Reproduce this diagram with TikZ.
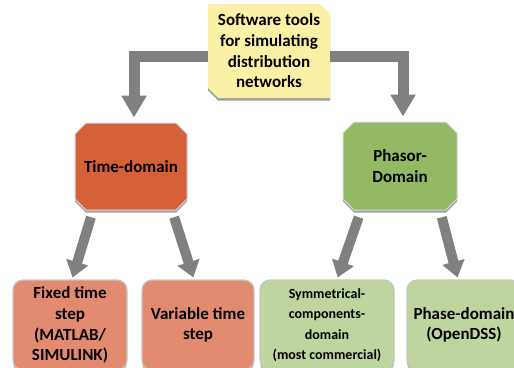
\documentclass[tikz,border=0pt]{standalone}
\usepackage{fontspec}
\setmainfont{Carlito}
\usetikzlibrary{arrows.meta,shapes.misc,shadows}
\definecolor{notey}{RGB}{251,241,166}
\definecolor{timec}{RGB}{214,96,55}
\definecolor{phasc}{RGB}{147,185,101}
\definecolor{salm}{RGB}{226,139,113}
\definecolor{lgreen}{RGB}{190,213,160}
\definecolor{arrowgray}{RGB}{128,128,128}
\tikzset{
  shade box/.style={drop shadow={opacity=1,fill=gray!75,shadow xshift=0pt,shadow yshift=-2.5pt}},
  octbox/.style={chamfered rectangle,chamfered rectangle xsep=5.5pt,chamfered rectangle ysep=5.5pt,
    draw=gray!30,line width=1pt,inner sep=0pt,align=center,shade box,
    font=\fontsize{17}{20.7}\selectfont\bfseries},
  leafbox/.style={rectangle,rounded corners=10pt,draw=gray!45,line width=1.2pt,inner sep=0pt,
    minimum height=90pt,align=center,shade box,font=\fontsize{17}{20.7}\selectfont\bfseries},
  bigarrow/.style={draw=arrowgray,line width=11pt,-{Triangle[width=24pt,length=22pt]}},
  slantarrow/.style={draw=arrowgray,line width=10pt,-{Triangle[width=22pt,length=16pt]}}
}
\begin{document}
\begin{tikzpicture}[x=1pt,y=-1pt]
\path[use as bounding box,clip] (0,0) rectangle (514,367);
% root
\node[chamfered rectangle,chamfered rectangle corners={north east,south west},
  chamfered rectangle xsep=5pt,chamfered rectangle ysep=5pt,fill=notey,inner sep=0pt,
  minimum width=122pt,minimum height=94pt,align=center,shade box,
  font=\fontsize{17}{20.7}\selectfont\bfseries] (tools) at (269,51)
  {Software tools\\for simulating\\distribution\\networks};
% middle level
\node[octbox,fill=timec,minimum width=112pt,minimum height=87pt] (time) at (131,166.5) {Time-domain};
\node[octbox,fill=phasc,minimum width=114pt,minimum height=88pt] (phasor) at (400,166) {Phasor-\\Domain};
% leaves
\node[leafbox,fill=salm,minimum width=114pt] (fixed) at (70,325) {Fixed time\\step\\(MATLAB/\\SIMULINK)};
\node[leafbox,fill=salm,minimum width=112pt] (var) at (198,325) {Variable time\\step};
\node[leafbox,fill=lgreen,minimum width=134pt,font=\fontsize{14}{20.5}\selectfont\bfseries] (symm) at (327,325)
  {Symmetrical-\\components-\\domain\\(most commercial)};
\node[leafbox,fill=lgreen,minimum width=114pt] (phase) at (464,325) {Phase-domain\\(OpenDSS)};
% arrows
\draw[bigarrow,shorten >=5pt] ([yshift=-5pt]tools.west) -| ([xshift=3pt]time.north);
\draw[bigarrow,shorten >=5pt] ([yshift=-5pt]tools.east) -| ([xshift=3pt]phasor.north);
\draw[slantarrow,shorten <=7pt,shorten >=2pt] ([xshift=-38pt]time.south) -- ([xshift=2pt]fixed.north);
\draw[slantarrow,shorten <=7pt,shorten >=2pt] ([xshift=41pt]time.south) -- ([xshift=-4pt]var.north);
\draw[slantarrow,shorten <=7pt,shorten >=2pt] ([xshift=-39pt]phasor.south) -- ([xshift=10pt]symm.north);
\draw[slantarrow,shorten <=7pt,shorten >=2pt] ([xshift=40pt]phasor.south) -- ([xshift=-6pt]phase.north);
\end{tikzpicture}
\end{document}
